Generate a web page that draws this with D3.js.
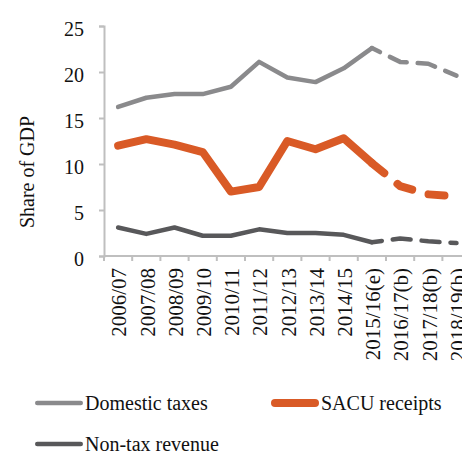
<!DOCTYPE html>
<html>
<head>
<meta charset="utf-8">
<script src="https://cdn.jsdelivr.net/npm/d3@7"></script>
<style>
  body { margin: 0; background: #fff; }
  svg text { font-family: "Liberation Serif", "Times New Roman", serif; fill: #111; }
</style>
</head>
<body>
<div id="chart"></div>
<script>
var years = ["2006/07", "2007/08", "2008/09", "2009/10", "2010/11", "2011/12", "2012/13",
             "2013/14", "2014/15", "2015/16(e)", "2016/17(b)", "2017/18(b)", "2018/19(b)"];
var domesticTaxes = [16.2, 17.2, 17.6, 17.6, 18.4, 21.1, 19.4, 18.9, 20.4, 22.6, 21.1, 20.9, 19.6];
var sacuReceipts  = [12.0, 12.7, 12.1, 11.3, 7.0, 7.5, 12.5, 11.6, 12.8, 10.1, 7.6, 6.7, 6.5];
var nonTaxRevenue = [3.1, 2.4, 3.1, 2.2, 2.2, 2.9, 2.5, 2.5, 2.3, 1.5, 1.9, 1.6, 1.4];
var yTicks = [0, 5, 10, 15, 20, 25];
var firstForecast = 9; // 2015/16 onward drawn dashed

var width = 462, height = 457;

var svg = d3.select("#chart").append("svg")
    .attr("width", width)
    .attr("height", height);

var x = d3.scaleBand()
    .domain(years)
    .range([104, 470.6])
    .padding(0);

var y = d3.scaleLinear()
    .domain([0, 25])
    .range([256, 26]);

// y axis
var yAxis = svg.append("g")
    .attr("transform", "translate(104,0)")
    .call(d3.axisLeft(y).tickValues(yTicks).tickSize(5).tickPadding(15));
yAxis.select(".domain").attr("stroke", "#bfbfbf").attr("stroke-width", 2);
yAxis.selectAll(".tick line").attr("stroke", "#bfbfbf").attr("stroke-width", 2);
yAxis.selectAll(".tick text")
    .attr("font-size", 20)
    .attr("fill", "#111")
    .attr("dy", "0.45em");

// x axis: ticks between categories
var xAxis = svg.append("g");
xAxis.append("line")
    .attr("x1", x.range()[0]).attr("x2", x.range()[1])
    .attr("y1", y(0)).attr("y2", y(0))
    .attr("stroke", "#bfbfbf").attr("stroke-width", 2);
var bounds = years.map(d => x(d)).concat([x.range()[1]]);
xAxis.selectAll("line.tk")
    .data(bounds)
    .enter().append("line")
    .attr("class", "tk")
    .attr("x1", d => d).attr("x2", d => d)
    .attr("y1", y(0)).attr("y2", y(0) + 5)
    .attr("stroke", "#bfbfbf").attr("stroke-width", 2);
xAxis.selectAll("text")
    .data(years)
    .enter().append("text")
    .attr("transform", d => "translate(" + (x(d) + x.bandwidth() / 2 + 1) + ",268) rotate(-90)")
    .attr("text-anchor", "end")
    .attr("dy", "0.35em")
    .attr("font-size", 21)
    .text(d => d);

// y axis label
svg.append("text")
    .attr("transform", "translate(27,172) rotate(-90)")
    .attr("text-anchor", "middle")
    .attr("dy", "0.35em")
    .attr("font-size", 20)
    .text("Share of GDP");

var line = d3.line()
    .x(d => x(d.year) + x.bandwidth() / 2)
    .y(d => y(d.value));

var series = [
    { name: "Domestic taxes", values: domesticTaxes, color: "#8a8a8c", width: 4.5, dash: "18,11", offset: 9 },
    { name: "Non-tax revenue", values: nonTaxRevenue, color: "#58585a", width: 4.5, dash: "18,11", offset: 8 },
    { name: "SACU receipts", values: sacuReceipts, color: "#d95a26", width: 8, dash: "16,17", offset: 0 }
];

series.forEach(function(s) {
    var pts = years.map((yr, i) => ({ year: yr, value: s.values[i] }));
    svg.append("path")
        .datum(pts.slice(0, firstForecast + 1))
        .attr("d", line)
        .attr("fill", "none")
        .attr("stroke", s.color)
        .attr("stroke-width", s.width)
        .attr("stroke-linejoin", "round")
        .attr("stroke-linecap", "round");
    svg.append("path")
        .datum(pts.slice(firstForecast))
        .attr("d", line)
        .attr("fill", "none")
        .attr("stroke", s.color)
        .attr("stroke-width", s.width)
        .attr("stroke-linejoin", "round")
        .attr("stroke-linecap", "round")
        .attr("stroke-dasharray", s.dash)
        .attr("stroke-dashoffset", s.offset);
});

// legend
var legendItems = [
    { name: "Domestic taxes", color: "#8a8a8c", width: 4.5, x: 35, y: 403 },
    { name: "SACU receipts", color: "#d95a26", width: 8, x: 271, y: 403 },
    { name: "Non-tax revenue", color: "#58585a", width: 4.5, x: 35, y: 444 }
];
var legend = svg.append("g");
var li = legend.selectAll("g")
    .data(legendItems)
    .enter().append("g");
li.append("line")
    .attr("x1", d => d.x + d.width / 2)
    .attr("x2", d => d.x + 48 - d.width / 2)
    .attr("y1", d => d.y).attr("y2", d => d.y)
    .attr("stroke", d => d.color)
    .attr("stroke-width", d => d.width)
    .attr("stroke-linecap", "round");
li.append("text")
    .attr("x", d => d.x + 50)
    .attr("y", d => d.y)
    .attr("dy", "0.35em")
    .attr("font-size", 20)
    .text(d => d.name);
</script>
</body>
</html>
